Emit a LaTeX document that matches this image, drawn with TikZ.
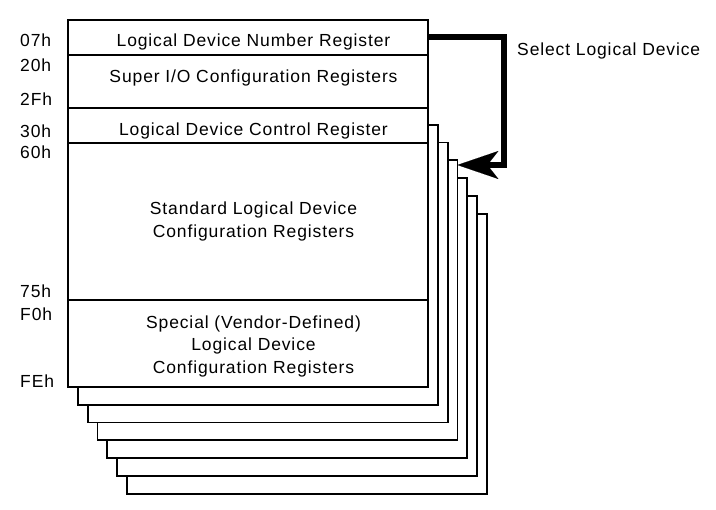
\documentclass[tikz,border=0pt]{standalone}
\usepackage{fontspec}
\setmainfont{Liberation Sans}[LetterSpace=5]
\usetikzlibrary{arrows.meta}
\begin{document}
\begin{tikzpicture}[x=1pt,y=-1pt,
  box/.style={draw, line width=1.8pt, fill=white, minimum width=360pt,
    inner sep=0pt, outer sep=0pt, anchor=north west},
  lbl/.style={anchor=base, inner sep=0pt, font=\fontsize{17.5}{22.5}\selectfont},
  mlbl/.style={anchor=center, inner sep=0pt, align=center, font=\fontsize{17.5}{22.5}\selectfont},
  addr/.style={anchor=base west, inner sep=0pt, font=\fontsize{17.5}{22.5}\selectfont},
  selarrow/.style={line width=6pt, line join=miter,
    -{Stealth[length=41pt,width=28pt,inset=11pt,line width=0.1pt]}}]
\useasboundingbox (0,0) rectangle (716,510);
% stacked logical device pages
\foreach \k in {6,5,4,3,2,1}
  \node[box, minimum height=280pt] (l\k) at ({68+9.8*\k},{107+17.8*\k}) {};
% main register map
\node[box, minimum height=35pt]  (r1) at (68,20)  {};
\node[box, minimum height=53pt]  (r2) at (68,55)  {};
\node[box, minimum height=35pt]  (r3) at (68,108) {};
\node[box, minimum height=157pt] (r4) at (68,143) {};
\node[box, minimum height=87pt]  (r5) at (68,300) {};
% texts
\node[lbl] (t1) at (253.5,47)  {Logical Device Number Register};
\node[lbl] (t2) at (253.5,83)  {Super I/O Configuration Registers};
\node[lbl] (t3) at (253.5,136) {Logical Device Control Register};
\node[mlbl] (t4) at (253.5,221.5) {Standard Logical Device\\Configuration Registers};
\node[mlbl] (t5) at (253.5,346) {Special (Vendor-Defined)\\Logical Device\\Configuration Registers};
% addresses
\node[addr] (a07) at (20,47)  {07h};
\node[addr] (a20) at (20,72)  {20h};
\node[addr] (a2F) at (20,106) {2Fh};
\node[addr] (a30) at (20,138) {30h};
\node[addr] (a60) at (20,159) {60h};
\node[addr] (a75) at (20,298) {75h};
\node[addr] (aF0) at (20,321) {F0h};
\node[addr] (aFE) at (20,388) {FEh};
% select arrow
\node[addr] (sel) at (517,56) {Select Logical Device};
\coordinate (bend) at (503.5,165);
\draw[selarrow] (r1.east) -| (bend) -- (bend -| l3.east);
\end{tikzpicture}
\end{document}
